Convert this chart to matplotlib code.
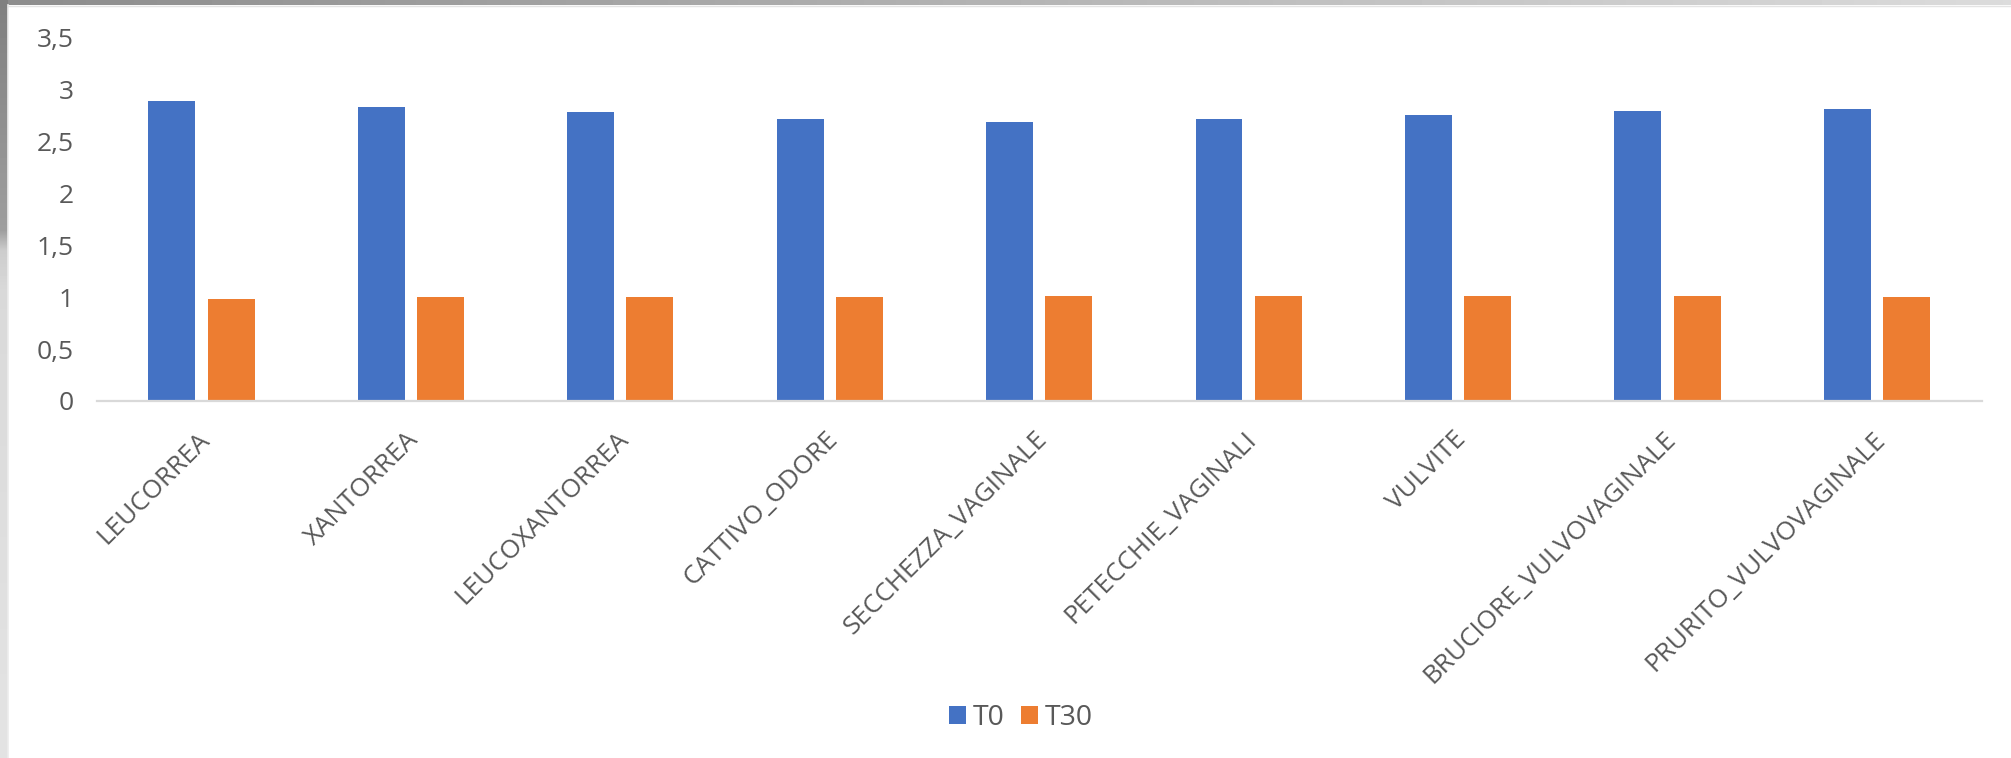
import numpy as np
import matplotlib
matplotlib.use("Agg")
import matplotlib.pyplot as plt
from matplotlib.transforms import ScaledTranslation

plt.rcParams['font.family'] = ['Open Sans', 'DejaVu Sans']

categories = ["LEUCORREA", "XANTORREA", "LEUCOXANTORREA", "CATTIVO_ODORE",
              "SECCHEZZA_VAGINALE", "PETECCHIE_VAGINALI", "VULVITE",
              "BRUCIORE_VULVOVAGINALE", "PRURITO_VULVOVAGINALE"]
t0 = [2.89, 2.83, 2.79, 2.72, 2.69, 2.72, 2.76, 2.80, 2.82]
t30 = [0.98, 1.00, 1.00, 1.00, 1.015, 1.015, 1.015, 1.015, 1.00]
y_ticks = [0, 0.5, 1, 1.5, 2, 2.5, 3, 3.5]
y_labels = ["0", "0,5", "1", "1,5", "2", "2,5", "3", "3,5"]

BLUE = "#4472C4"
ORANGE = "#ED7D31"
TEXT = "#595959"
W, H = 2011, 758

fig = plt.figure(figsize=(W / 100, H / 100), dpi=100)
fig.patch.set_facecolor("white")

# screenshot frame (gray strips on top / left)
bg = fig.add_axes([0, 0, 1, 1], zorder=-10)
bg.set_xlim(0, W)
bg.set_ylim(H, 0)
bg.axis("off")
top = np.linspace(0.55, 0.86, 256)[None, :]
bg.imshow(top, cmap="gray", vmin=0, vmax=1, extent=(0, W, 5, 0), aspect="auto")
ys = np.arange(H)
left = np.interp(ys, [0, 230, 250, 290, 758], [0.50, 0.62, 0.80, 0.85, 0.89])[:, None]
bg.imshow(left, cmap="gray", vmin=0, vmax=1, extent=(0, 8, H, 0), aspect="auto")
bg.plot([8.5, 8.5], [5, H], color="#ececec", lw=1.2)
bg.plot([8, W], [5.5, 5.5], color="#e4e4e4", lw=1)

ax = fig.add_axes([97 / W, 1 - 401 / H, (1982 - 97) / W, (401 - 38) / H])
ax.set_facecolor("none")
x = np.arange(len(categories))
ax.bar(x - 0.143, t0, 0.224, color=BLUE, label="T0")
ax.bar(x + 0.140, t30, 0.224, color=ORANGE, label="T30")

ax.set_xlim(-0.5, len(categories) - 0.5)
ax.set_ylim(0, 3.5)
for s in ["top", "right", "left"]:
    ax.spines[s].set_visible(False)
ax.spines["bottom"].set_color("#d9d9d9")
ax.spines["bottom"].set_linewidth(1.6)
ax.tick_params(length=0)

ax.set_yticks(y_ticks)
ax.set_yticklabels(y_labels, fontsize=19, color=TEXT)
ax.tick_params(axis="y", pad=17)

ax.set_xticks(x)
ax.set_xticklabels(categories, rotation=45, ha="right", va="center",
                   rotation_mode="anchor", fontsize=18.8, color=TEXT)
ax.tick_params(axis="x", pad=25)
shift = ScaledTranslation(4 / 100, 0, fig.dpi_scale_trans)
for lab in ax.get_xticklabels():
    lab.set_transform(lab.get_transform() + shift)

fig.legend(loc="center", bbox_to_anchor=(1021 / W, 1 - 718 / H), ncol=2,
           frameon=False, fontsize=20.5, labelcolor=TEXT,
           handlelength=0.6, handleheight=0.6, handletextpad=0.25,
           columnspacing=0.55)

fig.savefig("out.png", dpi=100)
